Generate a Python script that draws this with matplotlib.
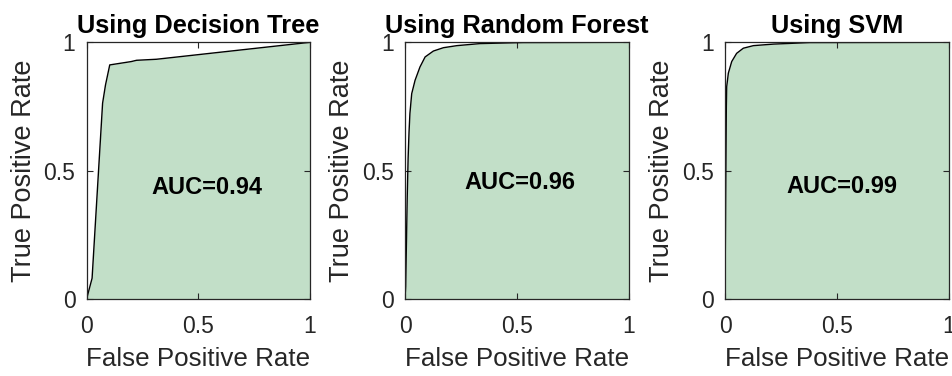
import matplotlib
matplotlib.use("Agg")
import matplotlib.pyplot as plt

plt.rcParams['font.family'] = ['Liberation Sans', 'DejaVu Sans']

titles = ["Using Decision Tree", "Using Random Forest", "Using SVM"]
auc_labels = ["AUC=0.94", "AUC=0.96", "AUC=0.99"]

dt_fpr = [0.0, 0.025, 0.072, 0.085, 0.104, 0.20, 0.224, 0.313, 1.0]
dt_tpr = [0.0, 0.082, 0.763, 0.834, 0.912, 0.925, 0.930, 0.934, 1.0]

rf_fpr = [0.0, 0.003, 0.006, 0.010, 0.014, 0.018, 0.022, 0.030, 0.045, 0.067, 0.090, 0.127, 0.172, 0.232, 0.336, 0.53, 1.0]
rf_tpr = [0.0, 0.05, 0.20, 0.40, 0.55, 0.65, 0.723, 0.80, 0.852, 0.904, 0.943, 0.966, 0.979, 0.987, 0.995, 0.999, 1.0]

svm_fpr = [0.0, 0.003, 0.006, 0.0075, 0.015, 0.030, 0.052, 0.082, 0.127, 0.217, 0.38, 1.0]
svm_tpr = [0.0, 0.40, 0.75, 0.827, 0.880, 0.925, 0.957, 0.977, 0.987, 0.993, 0.999, 1.0]

curves = [(dt_fpr, dt_tpr), (rf_fpr, rf_tpr), (svm_fpr, svm_tpr)]
auc_pos = [(0.54, 0.436), (0.516, 0.456), (0.523, 0.437)]

fig = plt.figure(figsize=(9.52, 3.76), dpi=100)
lefts = [86.5 / 952, 405 / 952, 725 / 952]
w = 223.5 / 952
b = (376 - 299.3) / 376
h = 257 / 376
fill_color = (0.761, 0.875, 0.784)
axc = (0.15, 0.15, 0.15)

for i in range(3):
    ax = fig.add_axes([lefts[i], b, w, h])
    x, y = curves[i]
    ax.fill_between(x, y, 0, color=fill_color, linewidth=0)
    ax.plot(x, y, color='black', linewidth=1.0)
    ax.set_xlim(0, 1)
    ax.set_ylim(0, 1)
    ax.set_xticks([0, 0.5, 1])
    ax.set_yticks([0, 0.5, 1])
    ax.set_xticklabels(["0", "0.5", "1"])
    ax.set_yticklabels(["0", "0.5", "1"])
    ax.tick_params(direction='in', length=4, width=0.8, color=axc,
                   labelcolor=axc, labelsize=16.5, top=True, right=True)
    ax.tick_params(axis='x', pad=11)
    ax.tick_params(axis='y', pad=8)
    for s in ax.spines.values():
        s.set_color(axc)
        s.set_linewidth(0.9)
    ax.set_xlabel("False Positive Rate", fontsize=18.7, color=axc, labelpad=7)
    ax.set_ylabel("True Positive Rate", fontsize=19.5, color=axc, labelpad=5)
    ax.set_title(titles[i], fontsize=18.3, fontweight='bold', pad=7)
    ax.text(auc_pos[i][0], auc_pos[i][1], auc_labels[i], fontsize=17,
            fontweight='bold', ha='center', va='center')

fig.savefig("out.png", dpi=100)
